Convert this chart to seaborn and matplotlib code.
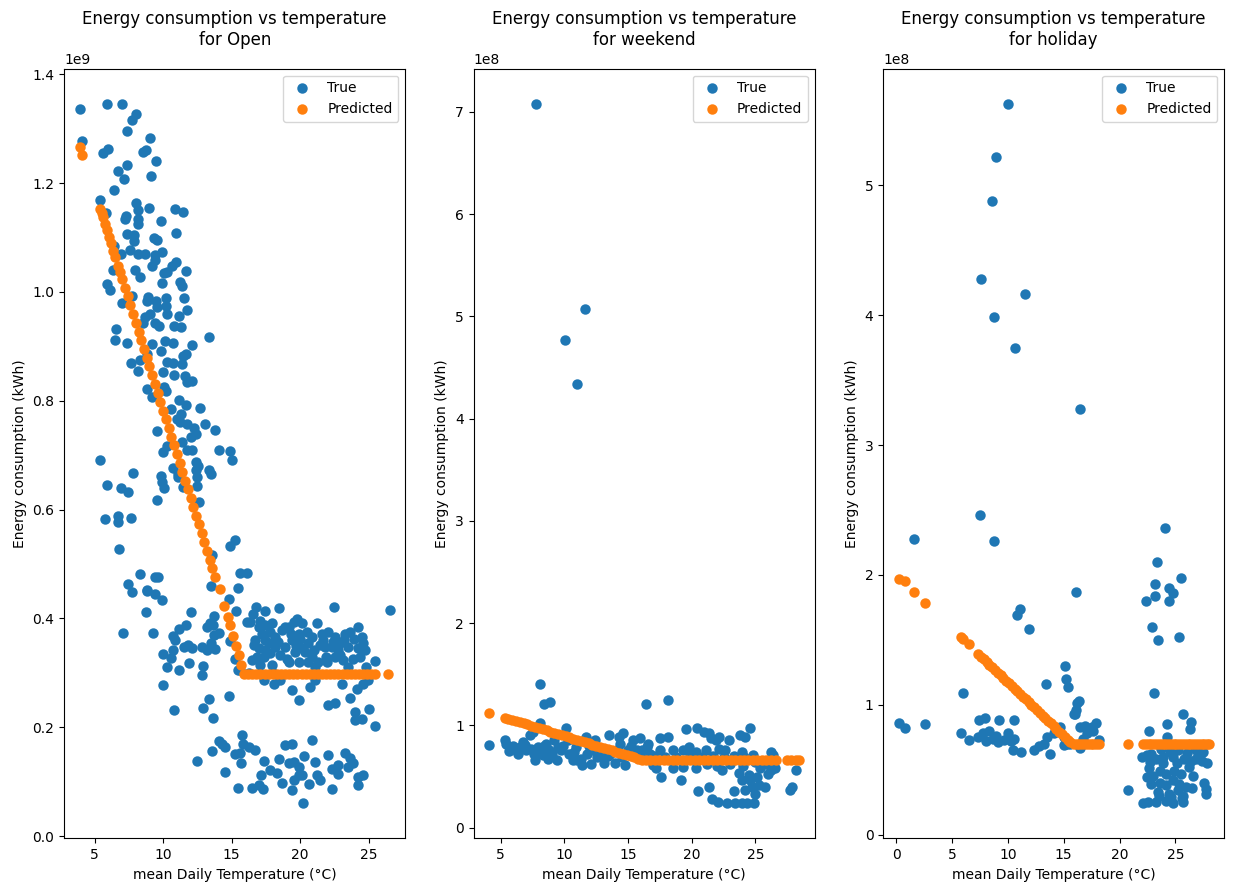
import numpy as np
import matplotlib
matplotlib.use("Agg")
import matplotlib.pyplot as plt
import seaborn as sns

# ---------------- Open days (energy in 1e9 kWh) ----------------
open_temp = [
    3.93, 5.89, 6.99, 8.00, 7.71, 7.35, 9.02, 4.08, 8.78, 8.56,
    5.95, 5.60, 9.46, 7.35, 6.67, 7.13, 9.09, 6.43, 5.36, 8.00,
    8.18, 8.95, 10.84, 11.42, 5.82, 7.28, 7.20, 8.13, 8.13, 9.85,
    10.91, 7.35, 7.89, 7.86, 9.34, 9.58, 6.43, 7.57, 6.91, 8.13,
    8.66, 9.89, 9.39, 9.39, 9.22, 10.91, 10.67, 10.31, 10.07, 11.67,
    6.36, 7.93, 8.32, 9.89, 11.20, 11.40, 5.89, 6.09, 7.69, 8.91,
    8.85, 10.19, 11.52, 7.01, 9.46, 9.53, 10.21, 10.31, 11.71, 9.05,
    8.66, 9.41, 9.71, 10.80, 11.18, 11.28, 6.55, 6.48, 7.35, 8.56,
    13.31, 9.17, 10.11, 10.75, 12.08, 9.82, 7.64, 8.32, 8.13, 8.85,
    10.31, 10.75, 11.35, 11.42, 11.64, 9.97, 10.82, 11.62, 11.76, 12.13,
    8.85, 9.22, 10.07, 10.21, 11.13, 11.64, 12.66, 10.58, 11.33, 11.04,
    11.23, 11.71, 12.25, 12.37, 12.00, 13.07, 13.75, 9.53, 11.40, 11.76,
    12.08, 10.31, 9.97, 14.09, 14.91, 15.04, 5.41, 12.37, 12.54, 12.37,
    10.75, 11.11, 11.11, 13.36, 13.46, 7.79, 9.82, 9.95, 10.07, 12.49,
    12.49, 5.89, 6.91, 7.45, 11.45, 9.58, 12.61, 5.75, 6.67, 6.69,
    7.64, 6.77, 14.91, 15.25, 13.53, 8.29, 9.39, 9.63, 7.40, 8.85,
    15.64, 16.13, 13.46, 15.47, 7.69, 8.80, 9.89, 9.39, 8.73, 7.06,
    9.29, 12.00, 13.71, 13.41, 13.22, 13.63, 11.16, 11.64, 10.75, 10.84,
    14.11, 13.71, 10.00, 10.75, 10.60, 11.52, 11.81, 12.08, 12.83, 13.22,
    13.46, 13.82, 10.26, 11.16, 11.86, 12.93, 12.80, 10.02, 14.77, 13.31,
    12.93, 13.65, 10.82, 14.84, 15.35, 14.87, 15.25, 15.60, 15.79, 15.81,
    15.64, 15.71, 14.11, 14.48, 13.53, 15.23, 12.44, 14.48, 15.47, 16.13,
    16.78, 17.46, 18.48, 22.48, 26.55, 16.54, 16.35, 16.98, 17.46, 17.95,
    17.82, 17.22, 16.73, 17.46, 18.19, 18.67, 19.16, 19.52, 19.76, 20.13,
    20.49, 19.89, 19.40, 18.91, 18.19, 17.46, 16.98, 16.61, 16.85, 17.34,
    17.82, 18.55, 19.04, 19.64, 20.13, 20.61, 21.22, 21.58, 22.07, 22.55,
    22.91, 23.28, 23.64, 24.25, 24.49, 24.61, 24.73, 24.25, 23.89, 23.16,
    22.55, 21.95, 21.34, 20.85, 20.37, 20.98, 21.46, 21.82, 22.31, 22.80,
    23.52, 25.46, 16.49, 17.09, 17.95, 19.16, 19.89, 20.61, 17.34, 18.07,
    18.55, 20.73, 21.09, 19.40, 19.93, 22.07, 22.51, 23.04, 23.64, 24.00,
    24.00, 24.49, 25.02, 25.46, 24.13, 24.61, 24.98, 15.47, 16.25, 16.73,
    16.49, 16.98, 17.27, 17.17, 17.34, 17.82, 18.31, 18.48, 18.67, 18.91,
    19.40, 19.16, 19.52, 19.89, 19.89, 19.52, 19.40, 20.13, 20.25, 20.20,
    20.66, 20.85, 21.09, 21.22, 21.46, 22.07, 22.31, 22.80, 22.80, 23.28,
    23.64, 23.89, 23.47, 22.31, 24.20, 24.25, 24.61, 14.31,
    17.70, 18.40, 19.30, 20.00, 20.90, 21.70, 22.40, 23.20, 23.90, 24.40,
    18.90, 17.10, 21.90, 22.90, 19.70, 21.10, 23.50, 24.80, 18.00, 16.30,
]
open_true = [
    1.336, 1.346, 1.346, 1.327, 1.315, 1.295, 1.283, 1.278, 1.261, 1.257,
    1.263, 1.255, 1.240, 1.234, 1.222, 1.207, 1.213, 1.188, 1.169, 1.164,
    1.150, 1.155, 1.153, 1.147, 1.145, 1.139, 1.134, 1.134, 1.125, 1.131,
    1.109, 1.107, 1.104, 1.093, 1.099, 1.095, 1.084, 1.077, 1.070, 1.069,
    1.069, 1.074, 1.067, 1.058, 1.047, 1.055, 1.047, 1.036, 1.035, 1.039,
    1.041, 1.041, 1.027, 1.017, 1.019, 1.011, 1.014, 1.003, 0.992, 0.990,
    0.983, 0.989, 0.989, 0.979, 0.983, 0.972, 0.974, 0.960, 0.967, 0.959,
    0.954, 0.942, 0.938, 0.938, 0.955, 0.935, 0.932, 0.911, 0.907, 0.942,
    0.918, 0.905, 0.910, 0.906, 0.902, 0.891, 0.869, 0.875, 0.854, 0.885,
    0.872, 0.869, 0.868, 0.882, 0.885, 0.852, 0.848, 0.845, 0.834, 0.837,
    0.822, 0.806, 0.826, 0.817, 0.802, 0.792, 0.787, 0.784, 0.775, 0.767,
    0.761, 0.757, 0.749, 0.739, 0.733, 0.757, 0.747, 0.744, 0.724, 0.710,
    0.709, 0.716, 0.705, 0.709, 0.708, 0.691, 0.691, 0.687, 0.680, 0.672,
    0.677, 0.666, 0.660, 0.672, 0.665, 0.668, 0.661, 0.651, 0.639, 0.660,
    0.643, 0.646, 0.639, 0.632, 0.642, 0.618, 0.613, 0.582, 0.588, 0.577,
    0.585, 0.528, 0.533, 0.544, 0.516, 0.481, 0.476, 0.476, 0.463, 0.453,
    0.484, 0.484, 0.460, 0.455, 0.448, 0.451, 0.433, 0.444, 0.412, 0.374,
    0.374, 0.411, 0.404, 0.392, 0.384, 0.388, 0.381, 0.388, 0.367, 0.361,
    0.374, 0.369, 0.334, 0.342, 0.328, 0.347, 0.351, 0.346, 0.348, 0.342,
    0.354, 0.343, 0.310, 0.306, 0.318, 0.312, 0.296, 0.277, 0.258, 0.252,
    0.235, 0.217, 0.231, 0.435, 0.414, 0.359, 0.326, 0.306, 0.185, 0.170,
    0.152, 0.135, 0.175, 0.164, 0.156, 0.150, 0.138, 0.117, 0.088, 0.394,
    0.421, 0.414, 0.419, 0.421, 0.416, 0.408, 0.394, 0.384, 0.388, 0.391,
    0.375, 0.372, 0.360, 0.360, 0.366, 0.378, 0.384, 0.394, 0.398, 0.391,
    0.375, 0.372, 0.360, 0.348, 0.348, 0.342, 0.345, 0.351, 0.329, 0.329,
    0.336, 0.332, 0.326, 0.338, 0.345, 0.354, 0.391, 0.372, 0.375, 0.366,
    0.354, 0.372, 0.375, 0.384, 0.366, 0.354, 0.342, 0.345, 0.326, 0.323,
    0.329, 0.320, 0.320, 0.329, 0.338, 0.342, 0.351, 0.348, 0.348, 0.342,
    0.348, 0.321, 0.323, 0.314, 0.314, 0.320, 0.320, 0.320, 0.287, 0.280,
    0.287, 0.274, 0.287, 0.268, 0.250, 0.241, 0.245, 0.279, 0.253, 0.228,
    0.213, 0.216, 0.233, 0.202, 0.271, 0.280, 0.287, 0.305, 0.164, 0.158,
    0.088, 0.094, 0.086, 0.112, 0.138, 0.121, 0.116, 0.141, 0.098, 0.167,
    0.169, 0.134, 0.136, 0.127, 0.112, 0.103, 0.084, 0.112, 0.147, 0.060,
    0.096, 0.176, 0.136, 0.112, 0.103, 0.149, 0.124, 0.130, 0.115, 0.152,
    0.143, 0.134, 0.127, 0.086, 0.094, 0.109, 0.112, 0.170,
    0.355, 0.357, 0.372, 0.362, 0.366, 0.360, 0.357, 0.360, 0.362, 0.330,
    0.385, 0.395, 0.330, 0.333, 0.350, 0.310, 0.310, 0.310, 0.300, 0.300,
]
open_pred_temp = [
    3.90, 4.05, 5.40, 5.50, 5.60, 5.75, 5.90, 6.05, 6.20, 6.35,
    6.50, 6.70, 6.85, 7.00, 7.20, 7.40, 7.60, 7.80, 8.00, 8.20,
    8.40, 8.60, 8.80, 9.00, 9.20, 9.40, 9.60, 9.80, 10.00, 10.20,
    10.40, 10.60, 10.80, 11.00, 11.20, 11.40, 11.60, 11.80, 12.00, 12.20,
    12.40, 12.60, 12.80, 13.00, 13.20, 13.40, 13.60, 13.80, 14.15, 14.45,
    14.75, 14.90, 15.10, 15.30, 15.50, 15.70, 15.90, 16.20, 16.50, 16.80,
    17.10, 17.40, 17.70, 18.00, 18.30, 18.60, 18.90, 19.20, 19.50, 19.80,
    20.10, 20.40, 20.70, 21.00, 21.30, 21.60, 21.90, 22.20, 22.50, 22.80,
    23.10, 23.40, 23.70, 24.00, 24.30, 24.60, 24.90, 25.20, 25.50, 26.45,
]
open_pred = [
    1.267, 1.252, 1.153, 1.145, 1.137, 1.125, 1.113, 1.101, 1.089, 1.076,
    1.064, 1.048, 1.036, 1.024, 1.008, 0.992, 0.976, 0.960, 0.943, 0.927,
    0.911, 0.895, 0.879, 0.863, 0.847, 0.831, 0.815, 0.798, 0.782, 0.766,
    0.750, 0.734, 0.718, 0.702, 0.686, 0.669, 0.653, 0.637, 0.621, 0.605,
    0.589, 0.573, 0.557, 0.540, 0.524, 0.508, 0.492, 0.476, 0.454, 0.422,
    0.402, 0.388, 0.368, 0.350, 0.332, 0.314, 0.297, 0.297, 0.297, 0.297,
    0.297, 0.297, 0.297, 0.297, 0.297, 0.297, 0.297, 0.297, 0.297, 0.297,
    0.297, 0.297, 0.297, 0.297, 0.297, 0.297, 0.297, 0.297, 0.297, 0.297,
    0.297, 0.297, 0.297, 0.297, 0.297, 0.297, 0.297, 0.297, 0.297, 0.297,
]

# ---------------- Weekend (energy in 1e8 kWh) ----------------
weekend_temp = [
    7.74, 11.61, 10.02, 10.97, 4.09, 8.12, 8.43, 8.90, 16.37, 18.12,
    5.33, 5.41, 5.67, 6.37, 6.76, 7.02, 7.27, 7.53, 7.71, 7.92,
    8.05, 8.31, 8.57, 8.82, 9.21, 9.42, 9.73, 10.12, 10.25, 10.37,
    10.76, 11.02, 11.41, 11.67, 11.80, 12.11, 12.44, 12.57, 13.09, 13.47,
    13.60, 13.99, 14.25, 14.64, 14.77, 15.02, 15.41, 15.93, 16.06, 16.45,
    5.98, 6.50, 7.40, 8.70, 8.18, 9.47, 10.64, 11.28, 12.05, 12.83,
    14.12, 14.51, 15.67, 16.71, 19.55, 20.45, 20.97, 21.36, 21.49, 21.88,
    22.13, 22.91, 23.81, 24.20, 24.59, 16.57, 17.48, 18.12, 17.48, 18.51,
    19.29, 19.81, 20.33, 21.10, 22.13, 22.65, 23.94, 24.84, 26.26, 26.40,
    16.96, 17.22, 17.61, 19.16, 18.51, 19.29, 20.33, 20.53, 21.36, 21.62,
    22.09, 22.40, 22.78, 23.30, 23.43, 23.68, 23.94, 23.94, 24.20, 24.33,
    24.46, 24.72, 24.92, 25.10, 25.36, 25.75, 26.26, 26.53, 27.74, 27.87,
    28.20, 24.59, 24.98,
    6.00, 6.90, 7.60, 8.40, 9.00, 9.90, 10.90, 11.90, 12.70, 13.40,
    14.40, 15.20, 16.00, 17.00, 17.90, 18.80, 19.90, 20.80, 21.70, 22.50,
    23.30, 24.10, 25.00, 25.80, 26.00, 23.00, 22.00, 24.00, 25.30, 21.20,
]
weekend_true = [
    7.08, 5.07, 4.77, 4.34, 0.813, 1.40, 1.214, 1.224, 1.214, 1.246,
    0.855, 0.823, 0.748, 0.725, 0.839, 0.758, 0.904, 0.937, 0.660, 0.790,
    1.019, 0.709, 0.823, 0.758, 0.855, 0.660, 0.758, 0.970, 0.855, 0.725,
    0.741, 0.660, 0.611, 0.888, 0.725, 0.621, 0.855, 0.692, 0.628, 0.904,
    0.725, 0.628, 0.888, 0.921, 0.611, 0.758, 0.855, 0.872, 0.758, 0.790,
    0.774, 0.790, 0.774, 0.676, 0.758, 0.790, 0.660, 0.676, 0.758, 0.709,
    0.758, 0.692, 0.758, 0.725, 0.960, 0.979, 0.937, 0.921, 0.872, 0.855,
    0.888, 0.855, 0.904, 0.888, 0.970, 0.823, 0.872, 0.882, 0.758, 0.758,
    0.758, 0.790, 0.741, 0.758, 0.774, 0.758, 0.741, 0.709, 0.741, 0.709,
    0.611, 0.579, 0.497, 0.471, 0.579, 0.594, 0.579, 0.360, 0.399, 0.285,
    0.252, 0.562, 0.242, 0.360, 0.242, 0.530, 0.464, 0.237, 0.367, 0.242,
    0.513, 0.399, 0.237, 0.497, 0.579, 0.399, 0.562, 0.579, 0.367, 0.399,
    0.562, 0.464, 0.334,
    0.800, 0.810, 0.720, 0.800, 0.720, 0.800, 0.790, 0.800, 0.780, 0.700,
    0.820, 0.800, 0.690, 0.700, 0.690, 0.690, 0.700, 0.690, 0.700, 0.690,
    0.700, 0.690, 0.640, 0.620, 0.520, 0.620, 0.600, 0.600, 0.420, 0.620,
]
weekend_pred_temp = [
    4.09, 5.33, 5.60, 5.90, 6.20, 6.50, 6.80, 7.10, 7.40, 7.70,
    8.00, 8.30, 8.60, 8.90, 9.20, 9.50, 9.80, 10.10, 10.40, 10.70,
    11.00, 11.30, 11.60, 11.90, 12.20, 12.50, 12.80, 13.10, 13.40, 13.70,
    14.00, 14.30, 14.60, 14.90, 15.20, 15.50, 15.80, 16.10, 16.40, 16.75,
    17.10, 17.45, 17.80, 18.15, 18.50, 18.85, 19.20, 19.55, 19.90, 20.25,
    20.60, 20.95, 21.30, 21.65, 22.00, 22.35, 22.70, 23.05, 23.40, 23.75,
    24.10, 24.45, 24.80, 25.15, 25.50, 25.85, 26.20, 26.60, 27.45, 27.80,
    28.15, 28.45,
]
weekend_pred = [
    1.126, 1.077, 1.067, 1.055, 1.044, 1.032, 1.021, 1.009, 0.998, 0.986,
    0.974, 0.963, 0.951, 0.940, 0.928, 0.917, 0.905, 0.894, 0.882, 0.871,
    0.859, 0.848, 0.836, 0.825, 0.813, 0.802, 0.790, 0.779, 0.767, 0.756,
    0.744, 0.733, 0.721, 0.710, 0.698, 0.687, 0.675, 0.664, 0.660, 0.660,
    0.660, 0.660, 0.660, 0.660, 0.660, 0.660, 0.660, 0.660, 0.660, 0.660,
    0.660, 0.660, 0.660, 0.660, 0.660, 0.660, 0.660, 0.660, 0.660, 0.660,
    0.660, 0.660, 0.660, 0.660, 0.660, 0.660, 0.660, 0.660, 0.660, 0.660,
    0.660, 0.660,
]

# ---------------- Holiday (energy in 1e8 kWh) ----------------
holiday_temp = [
    10.00, 8.94, 8.61, 7.60, 11.51, 8.78, 10.62, 16.48, 7.52, 1.57,
    8.78, 16.12, 11.09, 10.80, 11.89, 5.95, 15.08, 15.17, 15.39, 13.37,
    0.21, 0.75, 2.57, 5.83, 6.48, 7.45, 7.99, 9.23, 10.56, 7.31,
    8.05, 8.64, 9.09, 9.67, 10.27, 10.56, 10.42, 11.15, 7.76, 8.34,
    8.94, 9.97, 12.33, 12.78, 13.22, 13.75, 13.52, 14.11, 14.70, 15.00,
    15.30, 15.88, 16.18, 16.42, 16.48, 16.33, 16.12, 16.03, 16.92, 17.52,
    17.90, 17.66, 17.07, 16.77, 18.19, 15.00, 15.59, 24.11, 23.34, 23.16,
    25.47, 24.40, 24.76, 24.46, 23.22, 22.33, 22.89, 23.40, 25.29, 23.13,
    25.64, 26.44, 26.33, 24.29, 22.60, 24.24, 20.76, 22.04, 22.45, 22.69,
    22.63, 23.28, 23.87, 24.76, 25.11, 25.79, 26.39, 26.83, 27.42, 27.86,
    23.58, 24.17, 24.90, 25.50, 23.58, 24.17, 24.76, 25.35, 25.94, 26.53,
    22.83, 23.42, 24.46, 25.20, 22.09, 22.54, 23.28, 24.17, 24.76, 25.71,
    27.57, 27.72, 27.77, 23.00, 23.90, 24.60, 25.60, 26.20, 27.00, 22.50,
    23.70, 24.50, 25.20, 26.00, 26.80, 27.50, 22.80, 23.50, 25.70, 26.60,
]
holiday_true = [
    5.63, 5.22, 4.88, 4.28, 4.16, 3.99, 3.75, 3.28, 2.46, 2.28,
    2.26, 1.87, 1.74, 1.69, 1.58, 1.09, 1.30, 1.20, 1.14, 1.16,
    0.86, 0.82, 0.85, 0.78, 0.73, 0.88, 0.90, 0.88, 0.88, 0.75,
    0.72, 0.74, 0.71, 0.73, 0.72, 0.74, 0.65, 0.64, 0.78, 0.80,
    0.76, 0.78, 0.65, 0.68, 0.70, 0.62, 0.75, 0.78, 0.83, 0.75,
    0.70, 0.93, 1.01, 0.83, 0.67, 1.03, 0.96, 0.93, 0.84, 0.83,
    0.86, 0.80, 0.78, 0.74, 0.73, 0.69, 0.70, 2.36, 2.10, 1.93,
    1.98, 1.90, 1.86, 1.80, 1.84, 1.80, 1.60, 1.50, 1.52, 1.09,
    0.93, 0.87, 0.81, 0.85, 0.80, 0.75, 0.34, 0.60, 0.61, 0.56,
    0.51, 0.58, 0.60, 0.60, 0.55, 0.58, 0.57, 0.58, 0.57, 0.55,
    0.49, 0.47, 0.49, 0.47, 0.40, 0.38, 0.42, 0.39, 0.37, 0.36,
    0.39, 0.33, 0.31, 0.34, 0.24, 0.25, 0.25, 0.26, 0.24, 0.25,
    0.40, 0.35, 0.31, 0.45, 0.55, 0.29, 0.28, 0.52, 0.62, 0.44,
    0.66, 0.64, 0.65, 0.63, 0.66, 0.64, 0.62, 0.30, 0.30, 0.45,
]
holiday_pred_temp = [
    0.21, 0.75, 1.57, 2.57, 5.83, 6.00, 6.48, 7.36, 7.60, 7.85,
    8.10, 8.35, 8.60, 8.85, 9.10, 9.35, 9.60, 9.85, 10.10, 10.35,
    10.60, 10.85, 11.10, 11.35, 11.60, 11.85, 12.10, 12.35, 12.60, 12.85,
    13.10, 13.35, 13.60, 13.85, 14.10, 14.35, 14.60, 14.85, 15.10, 15.35,
    15.60, 15.88, 16.15, 16.40, 16.65, 16.90, 17.15, 17.40, 17.65, 17.90,
    18.20, 20.76, 22.10, 22.35, 22.60, 22.85, 23.10, 23.35, 23.60, 23.85,
    24.10, 24.35, 24.60, 24.85, 25.10, 25.35, 25.60, 25.85, 26.10, 26.35,
    26.60, 26.85, 27.10, 27.35, 27.60, 27.85, 28.00,
]
holiday_pred = [
    1.97, 1.95, 1.87, 1.78, 1.52, 1.51, 1.465, 1.390, 1.370, 1.350,
    1.329, 1.309, 1.288, 1.267, 1.247, 1.226, 1.206, 1.185, 1.165, 1.144,
    1.123, 1.103, 1.082, 1.062, 1.041, 1.020, 1.000, 0.979, 0.959, 0.938,
    0.917, 0.897, 0.876, 0.856, 0.835, 0.814, 0.794, 0.773, 0.753, 0.732,
    0.711, 0.694, 0.694, 0.694, 0.694, 0.694, 0.694, 0.694, 0.694, 0.694,
    0.694, 0.694, 0.694, 0.694, 0.694, 0.694, 0.694, 0.694, 0.694, 0.694,
    0.694, 0.694, 0.694, 0.694, 0.694, 0.694, 0.694, 0.694, 0.694, 0.694,
    0.694, 0.694, 0.694, 0.694, 0.694, 0.694, 0.694,
]

panels = [
    ("Open", open_temp, open_true, open_pred_temp, open_pred, 1e9),
    ("weekend", weekend_temp, weekend_true, weekend_pred_temp, weekend_pred, 1e8),
    ("holiday", holiday_temp, holiday_true, holiday_pred_temp, holiday_pred, 1e8),
]

fig, axes = plt.subplots(1, 3, figsize=(12.33, 8.91), dpi=100)
fig.subplots_adjust(left=0.052, right=0.993, bottom=0.059, top=0.923, wspace=0.2)

for ax, (name, t, y, pt, py, scale) in zip(axes, panels):
    # plain matplotlib-like scatter: face-coloured edge makes the dots a bit larger
    sns.scatterplot(x=t, y=np.array(y) * scale, ax=ax, color="C0", s=36,
                    edgecolor="face", linewidth=1.5, label="True")
    sns.scatterplot(x=pt, y=np.array(py) * scale, ax=ax, color="C1", s=36,
                    edgecolor="face", linewidth=1.5, label="Predicted")
    ax.set_title(f"Energy consumption vs temperature\nfor {name}", fontsize=12)
    ax.set_xlabel("mean Daily Temperature (°C)")
    ax.set_ylabel("Energy consumption (kWh)")
    ax.legend(loc="upper right")

fig.savefig("out.png", dpi=100)
